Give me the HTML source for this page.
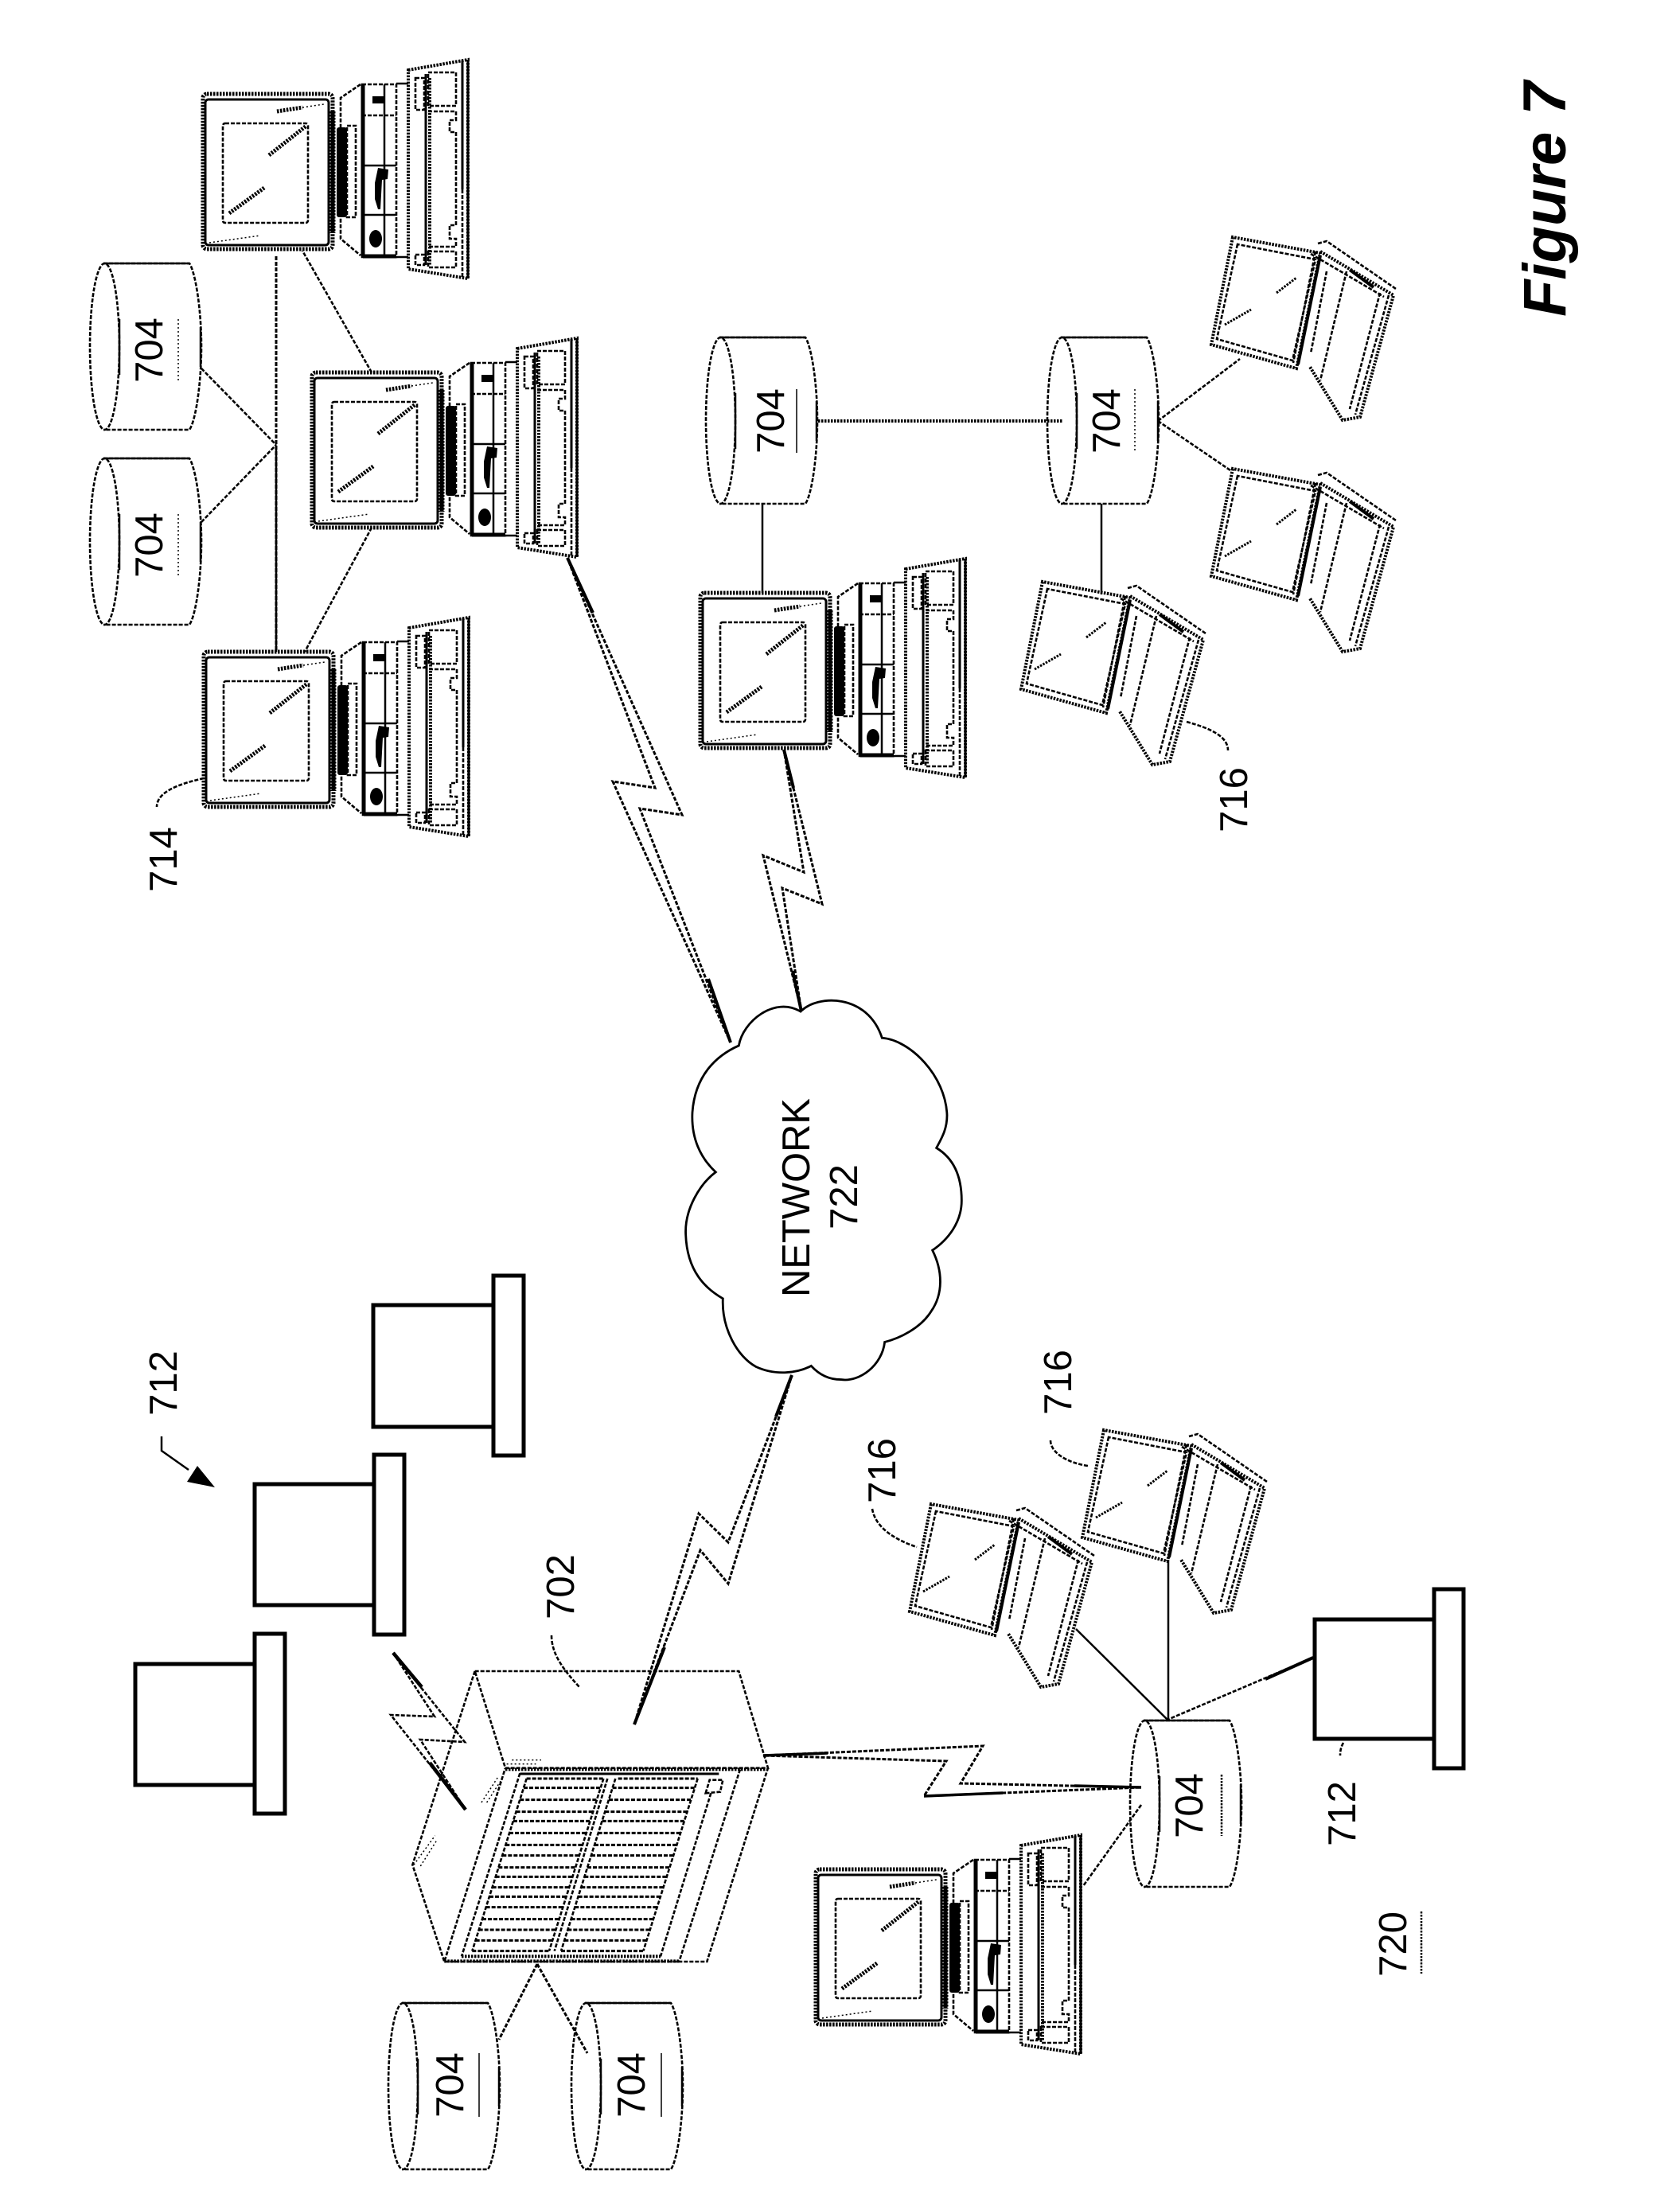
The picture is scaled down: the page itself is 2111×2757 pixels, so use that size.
<!DOCTYPE html>
<html>
<head>
<meta charset="utf-8">
<style>
html,body{margin:0;padding:0;background:#fff;}
svg{display:block;}
text{font-family:"Liberation Sans",sans-serif;font-size:49px;fill:#000;text-anchor:middle;}
.s{fill:none;stroke:#000;stroke-width:3;}
.t{fill:none;stroke:#000;stroke-width:2.5;}
.d{fill:none;stroke:#000;stroke-width:2.6;stroke-dasharray:5 2;}
.f{fill:none;stroke:#000;stroke-width:1.5;stroke-dasharray:2 3;}
.h{fill:none;stroke:#000;stroke-width:5;stroke-dasharray:2.500 1.500;}
.b{fill:none;stroke:#000;stroke-width:5;}
.k{fill:#000;stroke:none;}
.z *{vector-effect:non-scaling-stroke;}
</style>
</head>
<body>
<svg width="2111" height="2757" viewBox="0 0 2111 2757" xmlns="http://www.w3.org/2000/svg">
<defs>
<g id="pc">
  <rect class="h" x="0" y="0" width="163" height="195" rx="5"/>
  <rect class="s" x="3" y="7" width="155" height="183" rx="4"/>
  <path class="h" style="stroke-width:9" d="M162,22V175"/>
  <rect class="d" x="25" y="37" width="107" height="125" rx="3"/>
  <path class="h" d="M83,77L130,40M33,150L77,118M93,22L125,17"/>
  <path class="f" d="M125,17L152,13M8,187L72,178"/>
  <rect class="k" x="168" y="42" width="13" height="113" rx="3"/>
  <rect class="d" x="181" y="40" width="11" height="115"/>
  <path class="d" d="M198,-12L173,5V182L198,203"/>
  <rect class="d" x="200" y="-12" width="43" height="217"/>
  <path class="b" d="M201,-11V204M201,204H243"/>
  <path class="t" d="M228,-12V205M200,90H243M200,152H243M243,-13H258M243,205H258"/>
  <path class="d" d="M200,27H243"/>
  <rect class="k" x="213" y="3" width="15" height="9"/>
  <polygon class="k" points="220,93 233,95 232,107 225,108 223,145 220,145 216,132 216,112"/>
  <ellipse class="k" cx="217" cy="182" rx="8" ry="11"/>
  <polygon class="h" style="stroke-width:4" points="258,-30 333,-43 333,232 258,220"/>
  <path class="s" d="M326,-42V120M333,-43V232"/>
  <path class="d" d="M326,120V231"/>
  <path class="s" d="M280,-25V215" stroke-width="3"/>
  <path class="h" style="stroke-width:4" d="M285,-20V215"/>
  <rect class="d" x="283" y="-27" width="35" height="42"/>
  <rect class="d" x="267" y="-20" width="11" height="40"/>
  <path class="d" d="M283,22H318V33H310V48H318V165H310V182H318V192H283"/>
  <rect class="d" x="283" y="198" width="35" height="20"/>
  <rect class="d" x="267" y="202" width="11" height="13"/>
</g>
<g id="lap">
  <polygon class="h" style="stroke-width:4" points="-110,-23 -137,112 -30,142 0,-3"/>
  <polygon class="d" points="-104,-14 -130,105 -35,132 -6,5"/>
  <path class="h" style="stroke-width:3" d="M-55,47L-30,28M-120,87L-87,68"/>
  <path class="s" d="M0,0L-28,137" style="stroke-width:4"/>
  <path class="d" d="M-6,-5L-34,135"/>
  <path class="h" style="stroke-width:4" d="M0,-5L92,50L50,203L28,207L-13,140"/>
  <path class="d" d="M8,20L-12,123M33,20L0,157M75,47L37,193M86,50L44,200"/>
  <path class="s" d="M37,18L67,40" style="stroke-width:4"/>
  <path class="d" d="M-12,-2L80,52"/>
  <path class="d" d="M-3,-15L8,-18L95,42"/>
</g>
<g id="cyl">
  <ellipse class="d" cx="18.5" cy="104.500" rx="18.500" ry="104.500"/>
  <path class="d" d="M17,0H125C133,12 140,60 140,104C140,150 133,198 125,209H17"/>
  <path class="t" d="M17,0H125M37,70V140M139,80V130"/>
</g>
</defs>

<!-- Top group connectors -->
<path class="d" style="stroke-width:3" d="M347,322V819"/>
<path class="t" d="M347,560V819"/>
<path class="d" d="M253,463L347,559M253,656L347,559M467,468L380,315M467,663L383,819"/>

<use href="#pc" x="255" y="118"/>
<use href="#pc" x="392" y="468"/>
<use href="#pc" x="256" y="819"/>
<use href="#pc" x="880" y="745"/>
<use href="#pc" x="1025" y="2349"/>

<use href="#cyl" x="113" y="331"/>
<use href="#cyl" x="113" y="576"/>
<use href="#cyl" x="887" y="424"/>
<use href="#cyl" x="1316" y="424"/>
<use href="#cyl" x="1420" y="2162"/>
<use href="#cyl" x="488" y="2517"/>
<use href="#cyl" x="718" y="2517"/>

<!-- Right group connectors -->
<path class="h" style="stroke-width:4" d="M1028,529H1335"/>
<path class="t" d="M958,633V745M1384,633V747"/>
<path class="d" d="M1455,529L1558,451M1455,529L1546,591"/>

<use href="#lap" x="1659" y="321"/>
<use href="#lap" x="1659" y="612"/>
<use href="#lap" x="1420" y="754"/>
<use href="#lap" x="1497" y="1820"/>
<use href="#lap" x="1280" y="1913"/>

<!-- Bottom connectors -->
<path class="t" d="M1468,1960V2161M1352,2047L1467,2161"/>
<path class="d" d="M1650,2083L1467,2161M1434,2268L1361,2370"/>
<path class="s" d="M1650,2083L1590,2110" style="stroke-width:4"/>
<path class="d" style="stroke-width:3" d="M675,2468L627,2563M675,2468L738,2580"/>

<!-- Lightning bolts -->
<polygon class="d" style="stroke-width:3" points="713,701 857,1024 804,1016 918,1310 770,982 823,990"/>
<path class="s" d="M713,701L745,770M890,1230L918,1310" style="stroke-width:4"/>
<polygon class="d" style="stroke-width:3" points="985,942 1033,1136 983,1116 1007,1271 959,1075 1010,1096"/>
<path class="s" d="M985,942L997,990M996,1220L1007,1271" style="stroke-width:4"/>
<polygon class="d" style="stroke-width:3" points="995,1728 915,1938 878,1902 797,2167 880,1948 915,1990"/>
<path class="s" d="M995,1728L975,1780M835,2070L797,2167" style="stroke-width:4"/>
<polygon class="d" style="stroke-width:3" points="959,2206 1235,2194 1207,2241 1434,2246 1161,2257 1189,2213"/>
<path class="s" d="M959,2206L1040,2203M1350,2244L1434,2246M1161,2257L1260,2253" style="stroke-width:3.500"/>
<polygon class="d" points="494,2077 584,2189 528,2186 585,2274 491,2155 546,2157"/>
<path class="s" d="M494,2077L530,2120M540,2215L585,2274" style="stroke-width:4.500"/>

<!-- Cloud -->
<g class="z" transform="translate(860,1230) scale(.33333,.35714)">
<path fill="#fff" stroke="#000" stroke-width="2.800" d="M438,115 C500,55 690,50 745,208 C850,215 985,340 990,480 C990,530 970,560 950,595 C1030,640 1045,720 1045,780 C1045,860 990,920 935,955 C975,1030 975,1110 930,1170 C890,1230 810,1265 755,1278 C745,1360 660,1420 590,1410 C550,1410 510,1395 478,1362 C420,1390 340,1395 270,1365 C200,1330 140,1230 145,1125 C80,1090 10,1030 5,900 C0,810 60,720 118,680 C60,630 25,560 30,470 C40,340 120,270 205,235 C220,150 340,60 438,115 Z"/>
</g>

<!-- Server -->
<g class="z" transform="translate(480,2050) scale(.33333)">
<path class="d" d="M350,150L1345,150L1455,515L465,515ZM350,150L115,880L235,1245L465,515M235,1245L1225,1245L1455,515"/>
<path class="d" d="M1350,520L1120,1245M1240,610L1050,1225M520,535L300,1225"/>
<path class="h" style="stroke-width:4" d="M465,520H1450M300,1225H1050M235,1243H1120"/>
<path class="s" d="M520,537H1270"/>
<path class="d" d="M1220,610L1235,560H1285L1275,605Z"/>
<path class="d" d="M545,555L340,1205M1190,555L985,1205"/>
<path class="d" d="M835,555L630,1205M850,555L650,1205M880,555L675,1205"/>
<path class="d" style="stroke-width:3" d="M545,555H835M890,555H1190M534,590H824M869,590H1179M520,635H810M855,635H1165M506,680H796M841,680H1151M495,715H785M830,715H1140M480,760H770M815,760H1125M466,805H756M801,805H1111M454,845H744M789,845H1099M439,890H729M774,890H1084M428,925H718M763,925H1073M416,965H706M751,965H1061M405,1000H695M740,1000H1050M392,1040H682M727,1040H1037M378,1085H668M713,1085H1023M365,1125H655M700,1125H1010M353,1165H643M688,1165H998M340,1205H630M675,1205H985"/>
<path class="f" d="M490,485H600M470,500H580M375,645L440,545M395,645L450,560M120,880L200,770M145,885L205,790"/>
</g>

<!-- 712 boxes -->
<g class="b">
<rect x="469" y="1640" width="151" height="153"/><rect x="620" y="1603" width="38" height="226"/>
<rect x="320" y="1865" width="150" height="152"/><rect x="470" y="1828" width="38" height="226"/>
<rect x="170" y="2091" width="150" height="152"/><rect x="320" y="2053" width="38" height="226"/>
<rect x="1652" y="2035" width="150" height="150"/><rect x="1802" y="1997" width="37" height="225"/>
</g>

<!-- Labels -->
<g>
<text transform="translate(204,440) rotate(-90)">704</text>
<text transform="translate(204,685) rotate(-90)">704</text>
<text transform="translate(985,529) rotate(-90)">704</text>
<text transform="translate(1407,529) rotate(-90)">704</text>
<text transform="translate(1511,2269) rotate(-90)">704</text>
<text transform="translate(582,2620) rotate(-90)">704</text>
<text transform="translate(810,2620) rotate(-90)">704</text>
<text transform="translate(1017,1505) rotate(-90)" textLength="250">NETWORK</text>
<text transform="translate(1077,1504) rotate(-90)">722</text>
<text transform="translate(222,1080) rotate(-90)">714</text>
<text transform="translate(1567,1005) rotate(-90)">716</text>
<text transform="translate(1346,1737) rotate(-90)">716</text>
<text transform="translate(1125,1848) rotate(-90)">716</text>
<text transform="translate(222,1738) rotate(-90)">712</text>
<text transform="translate(1703,2279) rotate(-90)">712</text>
<text transform="translate(721,1994) rotate(-90)">702</text>
<text transform="translate(1767,2443) rotate(-90)">720</text>
<text transform="translate(1967,398) rotate(-90)" style="font-size:76px;font-weight:bold;font-style:italic;text-anchor:start">Figure 7</text>
</g>

<!-- Underlines -->
<path class="f" d="M224,401V478M224,646V723M1426,489V569"/>
<path class="t" d="M602,2580V2660M831,2580V2660M1001,489V569" style="stroke-width:1.500"/>
<path class="h" style="stroke-width:2.500" d="M1535,2230V2307M1786,2402V2480"/>

<!-- Leaders -->
<path class="d" d="M256,978C225,985 197,995 197,1014M1491,907C1520,915 1543,925 1543,943M1320,1810C1320,1825 1340,1838 1367,1842M1096,1896C1100,1920 1125,1935 1152,1944M693,2055C693,2080 710,2100 728,2120M1688,2190C1685,2195 1684,2200 1684,2206"/>
<path class="t" d="M203,1805V1823L237,1847"/>
<polygon class="k" points="248,1842 270,1869 235,1862"/>
</svg>
</body>
</html>
